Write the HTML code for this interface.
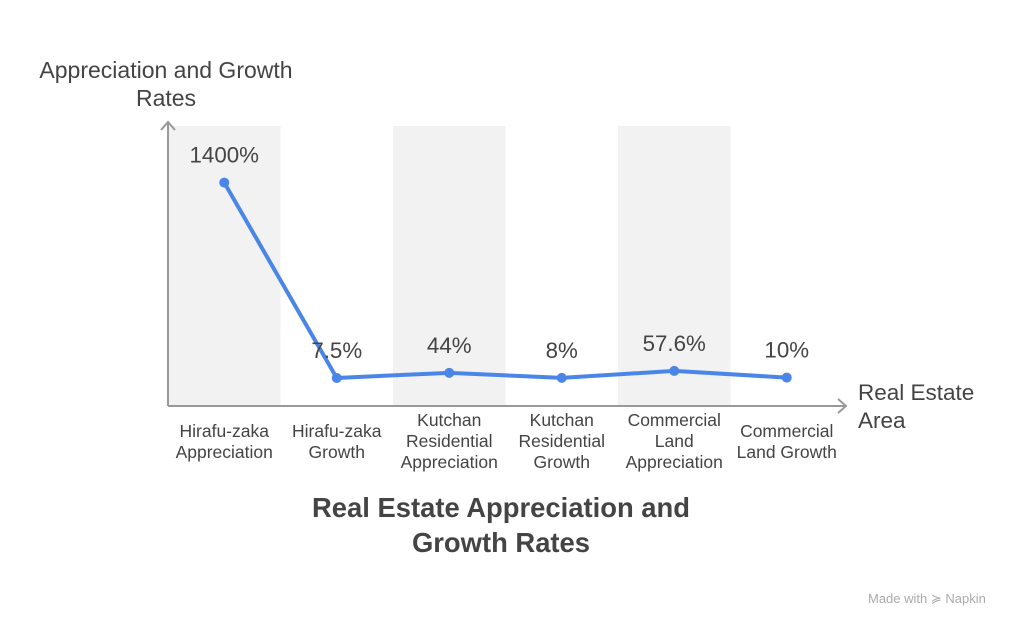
<!DOCTYPE html>
<html><head><meta charset="utf-8"><style>
html,body{margin:0;padding:0;background:#fff;width:1024px;height:629px;overflow:hidden}
svg{display:block;font-family:"Liberation Sans",sans-serif}
</style></head><body>
<svg id="chart" width="1024" height="629" viewBox="0 0 1024 629">
<g id="bands"></g>
<g id="axes">
<line x1="168" y1="406" x2="168" y2="122" stroke="#999" stroke-width="2"/>
<polyline points="161,130 168,122 175,130" fill="none" stroke="#999" stroke-width="2"/>
<line x1="168" y1="406" x2="846" y2="406" stroke="#999" stroke-width="2"/>
<polyline points="838,399 846,406 838,413" fill="none" stroke="#999" stroke-width="2"/>
</g>
<text x="166" y="78" font-size="23" fill="#444" text-anchor="middle"><tspan x="166">Appreciation and Growth</tspan><tspan x="166" dy="28">Rates</tspan></text>
<text x="858" y="400" font-size="22.5" fill="#444"><tspan x="858">Real Estate</tspan><tspan x="858" dy="28">Area</tspan></text>
<g id="xlabels"></g>
<path id="line" fill="none" stroke="#4a86e8" stroke-width="4" stroke-linejoin="round"/>
<g id="points"></g>
<g id="vlabels"></g>
<text x="501" y="517" font-size="27.4" font-weight="bold" fill="#444" text-anchor="middle"><tspan x="501">Real Estate Appreciation and</tspan><tspan x="501" dy="35">Growth Rates</tspan></text>
<text x="868" y="603" font-size="13" fill="#aaa">Made with <tspan fill="#aaa">≽ Napkin</tspan></text>
</svg>
<script>
const categories = [["Hirafu-zaka","Appreciation"],["Hirafu-zaka","Growth"],["Kutchan","Residential","Appreciation"],["Kutchan","Residential","Growth"],["Commercial","Land","Appreciation"],["Commercial","Land Growth"]];
const values = [1400, 7.5, 44, 8, 57.6, 10];
const valueLabels = ["1400%","7.5%","44%","8%","57.6%","10%"];
const NS="http://www.w3.org/2000/svg";
const x0=168, bw=112.5;
function xScale(i){return x0+bw*(i+0.5);}
function yScale(v){return 379 - v*0.1403;}
function mk(t,a){const e=document.createElementNS(NS,t);for(const k in a)e.setAttribute(k,a[k]);return e;}
const bands=document.getElementById('bands'),xl=document.getElementById('xlabels'),pts=document.getElementById('points'),vl=document.getElementById('vlabels');
let d="";
categories.forEach((c,i)=>{
  if(i%2===0){const r=mk('rect',{x:x0+bw*i,y:126,width:bw,height:280,fill:'#f2f2f2'});
  
  
  bands.appendChild(r);}
  const t=mk('text',{x:xScale(i),'font-size':17.5,fill:'#444','text-anchor':'middle'});
  
  
  const startY = c.length===3?426:437;
  c.forEach((ln,j)=>{const s=mk('tspan',{x:xScale(i),y:startY+j*21});s.textContent=ln;t.appendChild(s);});
  xl.appendChild(t);
  const x=xScale(i),y=yScale(values[i]);
  d+=(i?"L":"M")+x+","+y;
  const p=mk('circle',{cx:x,cy:y,r:5,fill:'#4a86e8'});
  
  
  pts.appendChild(p);
  const v=mk('text',{x:x,y:y-20,'font-size':22.3,fill:'#444','text-anchor':'middle'});
  
  
  v.textContent=valueLabels[i];
  vl.appendChild(v);
});
document.getElementById('line').setAttribute('d',d);
</script>
</body></html>
